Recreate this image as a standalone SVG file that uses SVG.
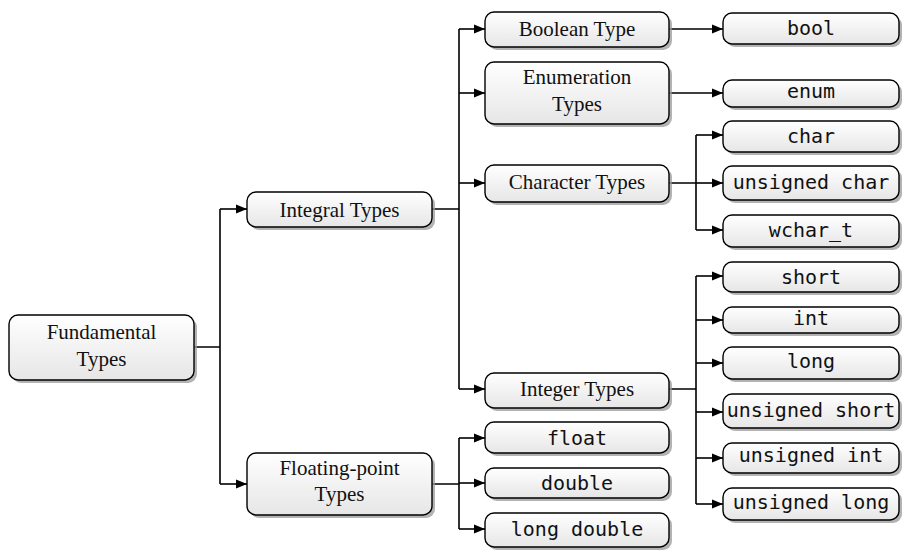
<svg xmlns="http://www.w3.org/2000/svg" width="902" height="550" viewBox="0 0 902 550">
<defs>
<linearGradient id="g" x1="0" y1="0" x2="0" y2="1">
<stop offset="0" stop-color="#ffffff"/>
<stop offset="1" stop-color="#e6e6e6"/>
</linearGradient>
<marker id="ah" markerUnits="userSpaceOnUse" markerWidth="12" markerHeight="12" viewBox="0 0 12 12" refX="11" refY="6" orient="auto">
<path d="M0,1.5 L11,6 L0,10.5 Z" fill="#000"/>
</marker>
<style>
.sh{fill:#9a9a9a;opacity:0.75}
.bx{fill:url(#g);stroke:#000;stroke-width:1.4}
.t{font-family:"Liberation Serif","DejaVu Serif",serif;font-size:21px;fill:#111;text-anchor:middle}
.m{font-family:"DejaVu Sans Mono","Liberation Mono",monospace;font-size:20px;fill:#111;text-anchor:middle}
.c{fill:none;stroke:#000;stroke-width:1.6}
</style>
</defs>
<rect width="902" height="550" fill="#fff"/>
<g id="connectors">
<path class="c" d="M194,347 H220 M220,209 V484"/>
<path class="c" marker-end="url(#ah)" d="M220,209 H247"/>
<path class="c" marker-end="url(#ah)" d="M220,484 H247"/>
<path class="c" d="M432,209 H459 M459,29 V389"/>
<path class="c" marker-end="url(#ah)" d="M459,29 H485"/>
<path class="c" marker-end="url(#ah)" d="M459,93 H485"/>
<path class="c" marker-end="url(#ah)" d="M459,183 H485"/>
<path class="c" marker-end="url(#ah)" d="M459,389 H485"/>
<path class="c" marker-end="url(#ah)" d="M669,29 H723"/>
<path class="c" marker-end="url(#ah)" d="M669,93 H723"/>
<path class="c" d="M669,183 H696 M696,135 V230"/>
<path class="c" marker-end="url(#ah)" d="M696,135 H723"/>
<path class="c" marker-end="url(#ah)" d="M696,183 H723"/>
<path class="c" marker-end="url(#ah)" d="M696,230 H723"/>
<path class="c" d="M669,389 H696 M696,276 V504"/>
<path class="c" marker-end="url(#ah)" d="M696,276 H723"/>
<path class="c" marker-end="url(#ah)" d="M696,320 H723"/>
<path class="c" marker-end="url(#ah)" d="M696,363 H723"/>
<path class="c" marker-end="url(#ah)" d="M696,412 H723"/>
<path class="c" marker-end="url(#ah)" d="M696,458 H723"/>
<path class="c" marker-end="url(#ah)" d="M696,504 H723"/>
<path class="c" d="M432,484 H459 M459,438 V529"/>
<path class="c" marker-end="url(#ah)" d="M459,438 H485"/>
<path class="c" marker-end="url(#ah)" d="M459,483 H485"/>
<path class="c" marker-end="url(#ah)" d="M459,529 H485"/>
</g>
<g id="fundamental"><rect class="sh" x="12" y="318" width="185" height="65" rx="9"/><rect class="bx" x="9" y="315" width="185" height="65" rx="9"/><text class="t" x="101.5" y="339">Fundamental</text><text class="t" x="101.5" y="366">Types</text></g>
<g id="integral"><rect class="sh" x="250" y="195" width="185" height="35" rx="9"/><rect class="bx" x="247" y="192" width="185" height="35" rx="9"/><text class="t" x="339.5" y="217">Integral Types</text></g>
<g id="floating"><rect class="sh" x="250" y="456" width="185" height="62" rx="9"/><rect class="bx" x="247" y="453" width="185" height="62" rx="9"/><text class="t" x="339.5" y="475">Floating-point</text><text class="t" x="339.5" y="501">Types</text></g>
<g id="boolean"><rect class="sh" x="488" y="15" width="184" height="35" rx="9"/><rect class="bx" x="485" y="12" width="184" height="35" rx="9"/><text class="t" x="577" y="36">Boolean Type</text></g>
<g id="enumeration"><rect class="sh" x="488" y="65" width="184" height="62" rx="9"/><rect class="bx" x="485" y="62" width="184" height="62" rx="9"/><text class="t" x="577" y="84">Enumeration</text><text class="t" x="577" y="111">Types</text></g>
<g id="character"><rect class="sh" x="488" y="168" width="184" height="37" rx="9"/><rect class="bx" x="485" y="165" width="184" height="37" rx="9"/><text class="t" x="577" y="189">Character Types</text></g>
<g id="integer"><rect class="sh" x="488" y="376" width="184" height="35" rx="9"/><rect class="bx" x="485" y="373" width="184" height="35" rx="9"/><text class="t" x="577" y="396">Integer Types</text></g>
<g id="float"><rect class="sh" x="488" y="425" width="184" height="31" rx="9"/><rect class="bx" x="485" y="422" width="184" height="31" rx="9"/><text class="m" x="577" y="445">float</text></g>
<g id="double"><rect class="sh" x="488" y="471" width="184" height="30" rx="9"/><rect class="bx" x="485" y="468" width="184" height="30" rx="9"/><text class="m" x="577" y="490">double</text></g>
<g id="longdouble"><rect class="sh" x="488" y="516" width="184" height="34" rx="9"/><rect class="bx" x="485" y="513" width="184" height="34" rx="9"/><text class="m" x="577" y="536">long double</text></g>
<g id="bool"><rect class="sh" x="726" y="16" width="176" height="31" rx="9"/><rect class="bx" x="723" y="13" width="176" height="31" rx="9"/><text class="m" x="811" y="35">bool</text></g>
<g id="enum"><rect class="sh" x="726" y="83" width="176" height="27" rx="9"/><rect class="bx" x="723" y="80" width="176" height="27" rx="9"/><text class="m" x="811" y="98">enum</text></g>
<g id="char"><rect class="sh" x="726" y="124" width="176" height="31" rx="9"/><rect class="bx" x="723" y="121" width="176" height="31" rx="9"/><text class="m" x="811" y="143">char</text></g>
<g id="uchar"><rect class="sh" x="726" y="169" width="176" height="34" rx="9"/><rect class="bx" x="723" y="166" width="176" height="34" rx="9"/><text class="m" x="811" y="189">unsigned char</text></g>
<g id="wchar"><rect class="sh" x="726" y="218" width="176" height="32" rx="9"/><rect class="bx" x="723" y="215" width="176" height="32" rx="9"/><text class="m" x="811" y="237">wchar_t</text></g>
<g id="short"><rect class="sh" x="726" y="265" width="176" height="30" rx="9"/><rect class="bx" x="723" y="262" width="176" height="30" rx="9"/><text class="m" x="811" y="284">short</text></g>
<g id="int"><rect class="sh" x="726" y="310" width="176" height="26" rx="9"/><rect class="bx" x="723" y="307" width="176" height="26" rx="9"/><text class="m" x="811" y="325">int</text></g>
<g id="long"><rect class="sh" x="726" y="350" width="176" height="32" rx="9"/><rect class="bx" x="723" y="347" width="176" height="32" rx="9"/><text class="m" x="811" y="368">long</text></g>
<g id="ushort"><rect class="sh" x="726" y="397" width="176" height="34" rx="9"/><rect class="bx" x="723" y="394" width="176" height="34" rx="9"/><text class="m" x="811" y="417">unsigned short</text></g>
<g id="uint"><rect class="sh" x="726" y="446" width="176" height="30" rx="9"/><rect class="bx" x="723" y="443" width="176" height="30" rx="9"/><text class="m" x="811" y="462">unsigned int</text></g>
<g id="ulong"><rect class="sh" x="726" y="491" width="176" height="32" rx="9"/><rect class="bx" x="723" y="488" width="176" height="32" rx="9"/><text class="m" x="811" y="509">unsigned long</text></g>
</svg>
